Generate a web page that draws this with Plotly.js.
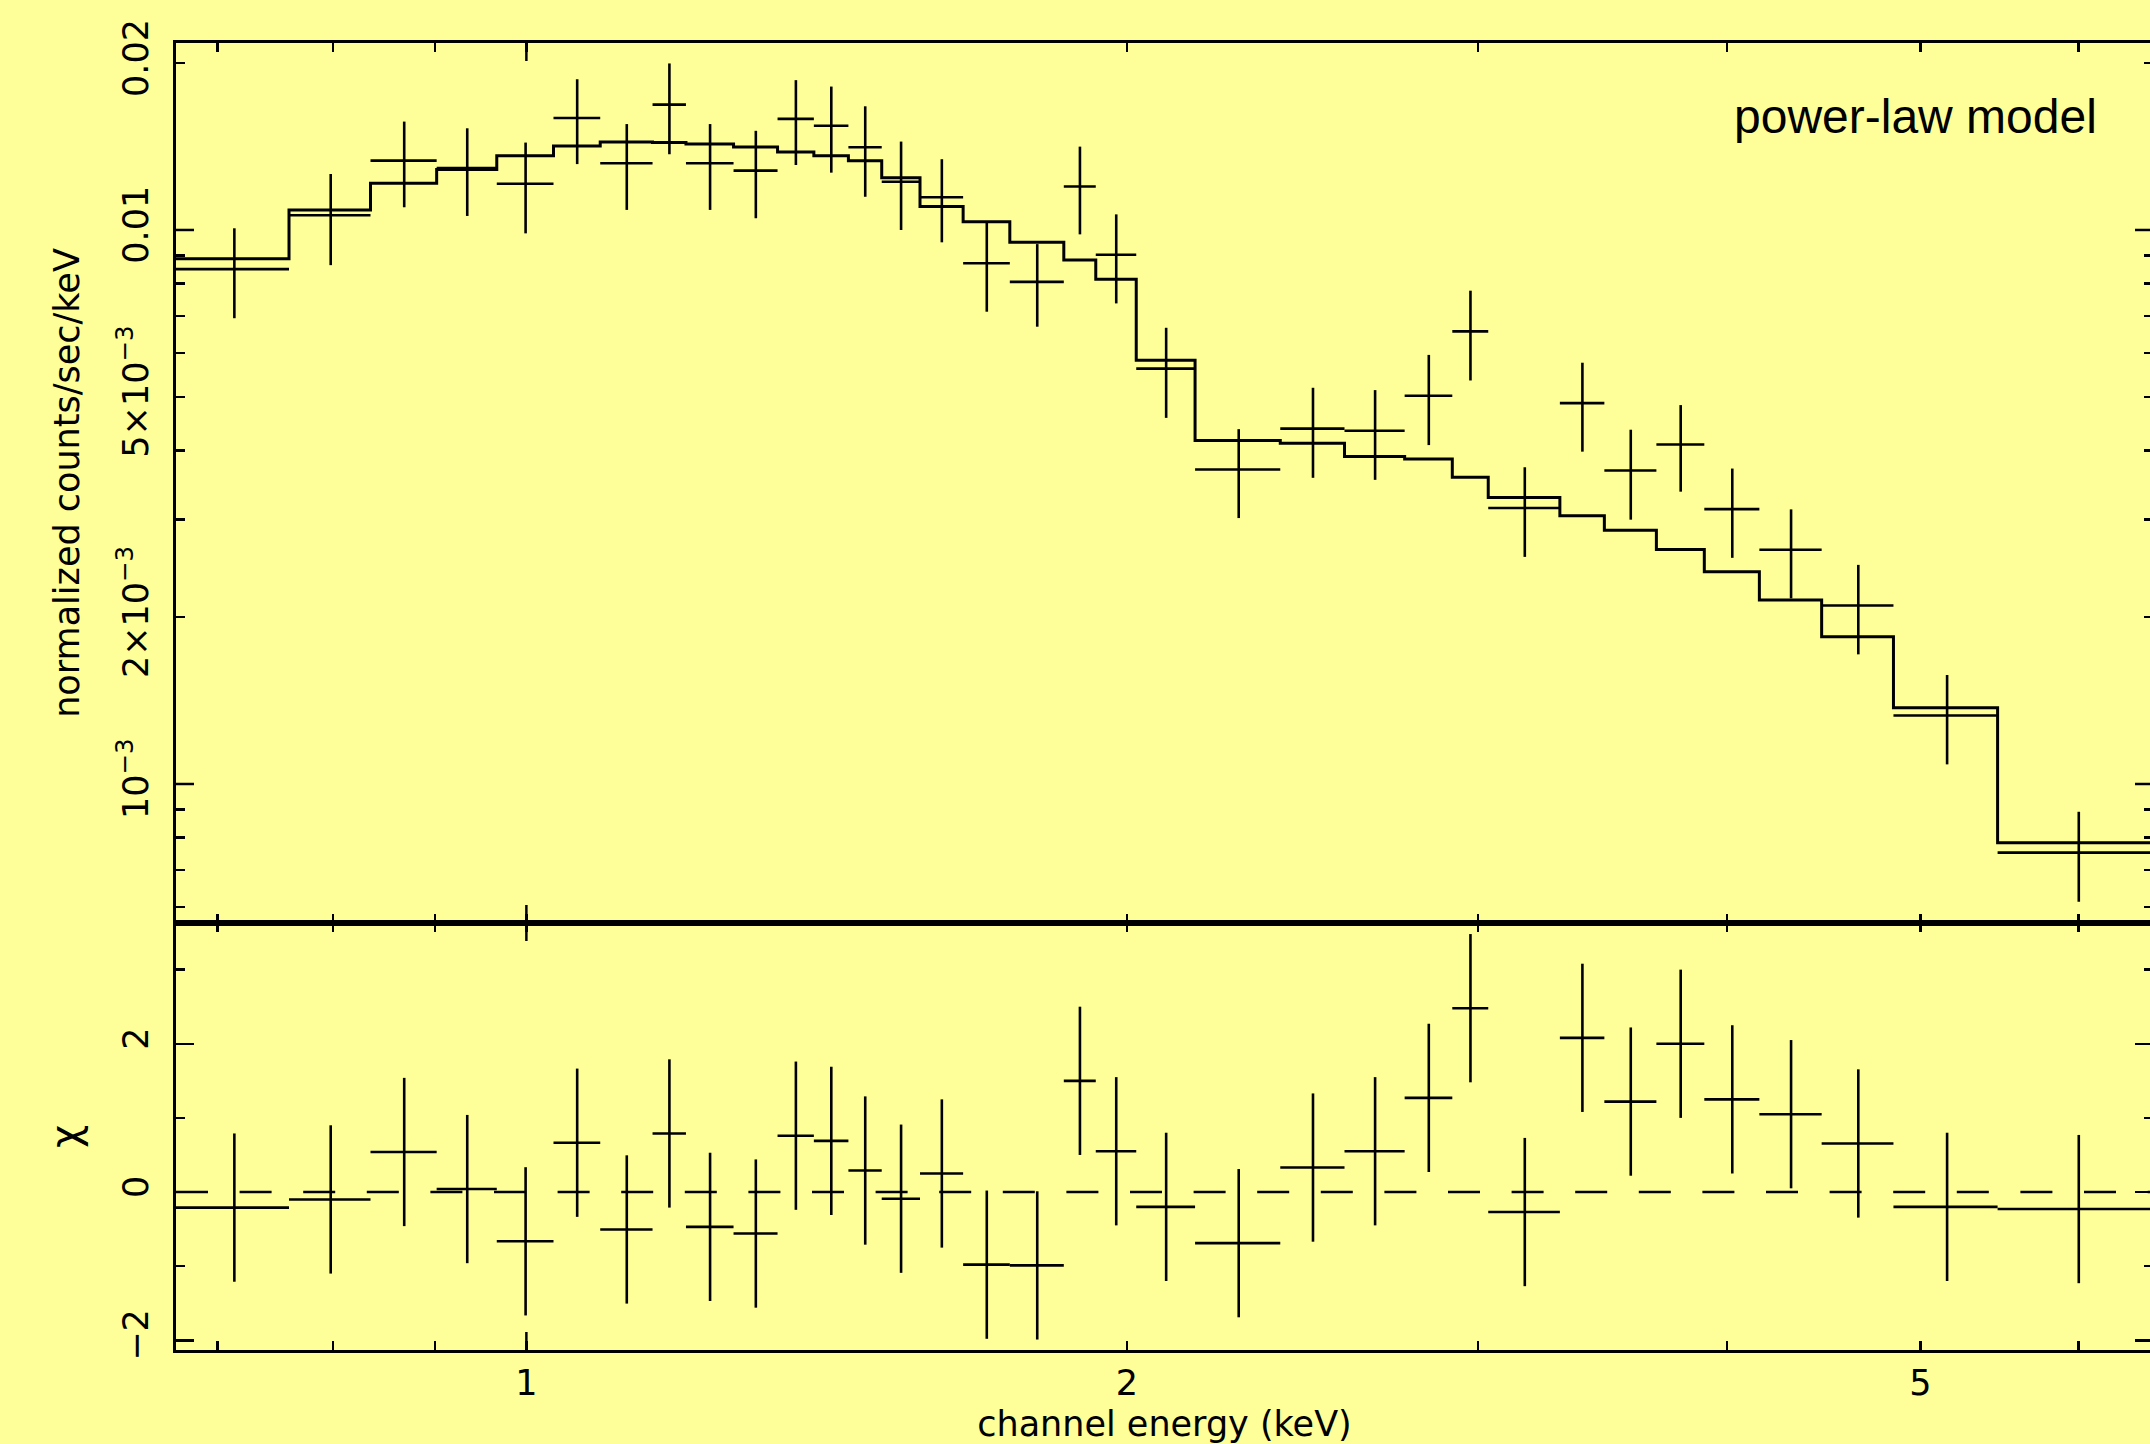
<!DOCTYPE html>
<html>
<head>
<meta charset="utf-8">
<script src="https://cdn.plot.ly/plotly-3.0.1.min.js"></script>
<style>
html,body{margin:0;padding:0;overflow:hidden;background:#ffff99;}
#chart{width:2153px;height:1444px;}
</style>
</head>
<body>
<div id="chart"></div>
<script>
// Channel-energy bin edges (keV)
const binEdges = [0.6673, 0.7603, 0.8353, 0.9016, 0.9664, 1.0318, 1.0890, 1.1568, 1.2023, 1.2702,
  1.3364, 1.3936, 1.4503, 1.5072, 1.5753, 1.6557, 1.7474, 1.8598, 1.9297, 2.0220,
  2.1641, 2.3878, 2.5716, 2.7565, 2.9124, 3.0358, 3.2975, 3.4713, 3.6862, 3.8959,
  4.1516, 4.4611, 4.8467, 5.4659, 6.54];
// Normalized counts/sec/keV (data)
const counts = [0.00850, 0.01063, 0.01334, 0.01293, 0.01212, 0.01593, 0.01320, 0.01684, 0.01320, 0.01280,
  0.01587, 0.01542, 0.01410, 0.01222, 0.01146, 0.00871, 0.00806, 0.01198, 0.00902, 0.00562,
  0.003695, 0.00438, 0.00434, 0.00502, 0.00656, 0.00315, 0.00487, 0.00368, 0.00410, 0.003135,
  0.002647, 0.00210, 0.001329, 0.000752];
// 1-sigma errors on the data
const countErr = [0.00157, 0.00199, 0.00235, 0.00233, 0.00226, 0.00278, 0.00233, 0.00314, 0.00233, 0.00230,
  0.00277, 0.00273, 0.00262, 0.00222, 0.00196, 0.00159, 0.00137, 0.00216, 0.00165, 0.00104,
  0.000675, 0.00081, 0.00080, 0.00093, 0.00121, 0.00058, 0.00089, 0.00068, 0.00073, 0.000575,
  0.000484, 0.000386, 0.000244, 0.000139];
// Power-law model, per bin
const modelCounts = [0.00887, 0.01087, 0.01214, 0.01286, 0.01362, 0.01418, 0.01441, 0.01438, 0.01430, 0.01412,
  0.01383, 0.01362, 0.01334, 0.01243, 0.01102, 0.01035, 0.00950, 0.00883, 0.00815, 0.00582,
  0.00417, 0.00412, 0.00390, 0.00386, 0.00358, 0.00329, 0.00305, 0.00287, 0.00265, 0.002416,
  0.002148, 0.001845, 0.001373, 0.000783];
// Residuals (chi)
const chiResid = [-0.21, -0.10, 0.54, 0.04, -0.665, 0.665, -0.505, 0.79, -0.47, -0.56,
  0.76, 0.69, 0.29, -0.09, 0.25, -0.98, -0.99, 1.50, 0.55, -0.20,
  -0.69, 0.33, 0.55, 1.27, 2.48, -0.27, 2.08, 1.22, 2.00, 1.25,
  1.05, 0.655, -0.20, -0.23];

// Tick definitions
const xTickVals = [1, 2, 5];
const xTickText = ['1', '2', '5'];
const xMinorVals = [0.7, 0.8, 0.9, 3, 4, 6];
const xDecadeVals = [1];
const yTickVals = [0.001, 0.002, 0.005, 0.01, 0.02];
const yTickText = ['10<sup>\u22123</sup>', '2\u00d710<sup>\u22123</sup>', '5\u00d710<sup>\u22123</sup>', '0.01', '0.02'];
const yMinorVals = [0.0006, 0.0007, 0.0008, 0.0009, 0.003, 0.004, 0.006, 0.007, 0.008, 0.009];
const yDecadeVals = [0.001, 0.01];
const chiTickVals = [-2, 0, 2];
const chiTickText = ['\u22122', '0', '2'];
const chiMinorVals = [-1, 1, 3];

// Derived: bin centres and half widths
const centers = [], halfW = [];
for (let i = 0; i < binEdges.length - 1; i++) {
  centers.push((binEdges[i] + binEdges[i + 1]) / 2);
  halfW.push((binEdges[i + 1] - binEdges[i]) / 2);
}
const stepY = modelCounts.concat([modelCounts[modelCounts.length - 1]]);

const INK = '#000000';
const BG = '#ffff99';
const xRange = [Math.log10(binEdges[0]), Math.log10(binEdges[binEdges.length - 1])];
const yTopRange = [-3.2509, -1.6625];
const chiRange = [-2.131, 3.629];
const split = 0.3267;
const FONT = 'DejaVu Sans, Verdana, sans-serif';
const LONG = 18, TW = 2.5;

const traces = [
  {
    x: centers, y: counts, xaxis: 'x2', yaxis: 'y2', type: 'scatter', mode: 'markers',
    marker: {size: 1, color: 'rgba(0,0,0,0)'},
    error_x: {type: 'data', array: halfW, symmetric: true, width: 0, thickness: 2.6, color: INK},
    error_y: {type: 'data', array: countErr, symmetric: true, width: 0, thickness: 2.6, color: INK},
    hoverinfo: 'skip'
  },
  {
    x: binEdges, y: stepY, xaxis: 'x2', yaxis: 'y2', type: 'scatter', mode: 'lines',
    line: {shape: 'hv', color: INK, width: 3},
    hoverinfo: 'skip'
  },
  {
    x: centers, y: chiResid, xaxis: 'x', yaxis: 'y', type: 'scatter', mode: 'markers',
    marker: {size: 1, color: 'rgba(0,0,0,0)'},
    error_x: {type: 'data', array: halfW, symmetric: true, width: 0, thickness: 2.6, color: INK},
    error_y: {type: 'constant', value: 1, width: 0, thickness: 2.6, color: INK},
    hoverinfo: 'skip'
  }
];

const baseX = {
  type: 'log', range: xRange, domain: [0, 1],
  showgrid: false, zeroline: false, automargin: false,
  ticks: 'inside', ticklen: 9, tickwidth: TW, tickcolor: INK,
  tickvals: xTickVals, ticktext: xTickText,
  minor: {tickvals: xMinorVals, ticks: 'inside', ticklen: 9, tickwidth: TW, tickcolor: INK, showgrid: false},
  showline: true, linecolor: INK, linewidth: 3, mirror: 'ticks',
  tickfont: {family: FONT, size: 35, color: INK}
};

// Long (decade) tick marks, drawn on every frame edge through the axis scales
const shapes = [];
const tickLine = {color: INK, width: TW};
['y', 'y2'].forEach(function (yr) {
  const xr = yr === 'y' ? 'x' : 'x2';
  xDecadeVals.forEach(function (v) {
    shapes.push({type: 'line', xref: xr, yref: yr + ' domain', ysizemode: 'pixel', yanchor: 0,
      x0: v, x1: v, y0: 0, y1: LONG, line: tickLine, layer: 'above'});
    shapes.push({type: 'line', xref: xr, yref: yr + ' domain', ysizemode: 'pixel', yanchor: 1,
      x0: v, x1: v, y0: -LONG, y1: 0, line: tickLine, layer: 'above'});
  });
});
yDecadeVals.forEach(function (v) {
  shapes.push({type: 'line', xref: 'x2 domain', yref: 'y2', xsizemode: 'pixel', xanchor: 0,
    x0: 0, x1: LONG, y0: v, y1: v, line: tickLine, layer: 'above'});
  shapes.push({type: 'line', xref: 'x2 domain', yref: 'y2', xsizemode: 'pixel', xanchor: 1,
    x0: -LONG, x1: 0, y0: v, y1: v, line: tickLine, layer: 'above'});
});
// chi = 0 reference line (dashed)
shapes.push({
  type: 'line', xref: 'x domain', yref: 'y', x0: 0, x1: 1, y0: 0, y1: 0,
  line: {color: INK, width: 2.5, dash: '32px,31.6px'}, layer: 'above'
});

const layout = {
  width: 2153, height: 1444,
  margin: {l: 176, r: 0, t: 43, b: 94},
  paper_bgcolor: BG, plot_bgcolor: BG,
  showlegend: false,
  font: {family: FONT, size: 35, color: INK},
  xaxis: Object.assign({}, baseX, {
    anchor: 'y', showticklabels: true,
    title: {text: 'channel energy (keV)', font: {family: FONT, size: 35, color: INK}, standoff: 18}
  }),
  xaxis2: Object.assign({}, baseX, {anchor: 'y2', showticklabels: false}),
  yaxis: {
    anchor: 'x', domain: [0, split], range: chiRange,
    showgrid: false, zeroline: false, automargin: false,
    tickvals: chiTickVals, ticktext: chiTickText, tickangle: -90,
    ticks: 'inside', ticklen: LONG, tickwidth: TW, tickcolor: INK, ticklabelstandoff: 11,
    minor: {tickvals: chiMinorVals, ticks: 'inside', ticklen: 9, tickwidth: TW, tickcolor: INK, showgrid: false},
    showline: true, linecolor: INK, linewidth: 3, mirror: 'ticks',
    tickfont: {family: FONT, size: 35, color: INK},
    title: {text: '\u03c7', font: {family: FONT, size: 40, color: INK}, standoff: 24}
  },
  yaxis2: {
    anchor: 'x2', domain: [split, 1], type: 'log', range: yTopRange,
    showgrid: false, zeroline: false, automargin: false,
    tickvals: yTickVals, ticktext: yTickText, tickangle: -90,
    ticks: 'inside', ticklen: 9, tickwidth: TW, tickcolor: INK, ticklabelstandoff: 11,
    minor: {tickvals: yMinorVals, ticks: 'inside', ticklen: 9, tickwidth: TW, tickcolor: INK, showgrid: false},
    showline: true, linecolor: INK, linewidth: 3, mirror: 'ticks',
    tickfont: {family: FONT, size: 35, color: INK},
    title: {text: 'normalized counts/sec/keV', font: {family: FONT, size: 35, color: INK}, standoff: 21}
  },
  shapes: shapes,
  annotations: [{
    text: 'power-law model', xref: 'paper', yref: 'paper', x: 0.787, y: 0.9434,
    xanchor: 'left', yanchor: 'middle', showarrow: false,
    font: {family: 'Liberation Sans, Arial, sans-serif', size: 48, color: INK}
  }]
};

Plotly.newPlot('chart', traces, layout, {displayModeBar: false, staticPlot: true});
</script>
</body>
</html>
